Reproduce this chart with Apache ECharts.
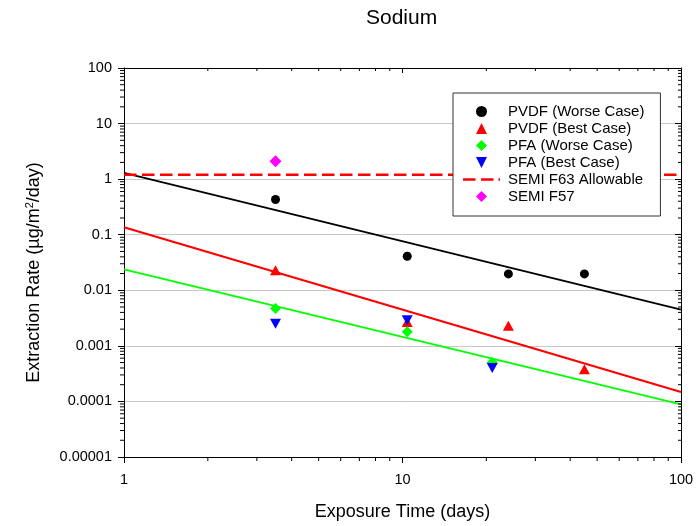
<!DOCTYPE html>
<html>
<head>
<meta charset="utf-8">
<script src="https://cdn.jsdelivr.net/npm/echarts@6/dist/echarts.min.js"></script>
<style>
html,body{margin:0;padding:0;background:#fff;}
#chart{width:699px;height:526px;}
</style>
</head>
<body>
<div id="chart"></div>
<script>
// ---- data ----
const xTickValues = [1, 10, 100];
const xTickLabels = ['1', '10', '100'];
const yTickValues = [0.00001, 0.0001, 0.001, 0.01, 0.1, 1, 10, 100];
const yTickLabels = ['0.00001', '0.0001', '0.001', '0.01', '0.1', '1', '10', '100'];

const pvdfWorseDays = [3.5, 10.4, 24, 45];
const pvdfWorseRate = [0.43, 0.041, 0.0197, 0.0197];
const pvdfBestDays = [3.5, 10.4, 24, 45];
const pvdfBestRate = [0.023, 0.0027, 0.0023, 0.00038];
const pfaWorseDays = [3.5, 10.4, 21];
const pfaWorseRate = [0.0047, 0.0018, 0.0005];
const pfaBestDays = [3.5, 10.4, 21];
const pfaBestRate = [0.0025, 0.0029, 0.0004];
const semiF57Days = [3.5];
const semiF57Rate = [2.1];
const semiF63Days = [1, 100];
const semiF63Rate = [1.2, 1.2];

// fitted trend lines (end points)
const fitDays = [1, 100];
const pvdfWorseFit = [1.30, 0.00449];
const pvdfBestFit = [0.136, 0.000148];
const pfaWorseFit = [0.0239, 0.0000888];

// minor tick mantissas for the log axes
const minorMantissas = [2, 3, 4, 5, 6, 7, 8, 9];

// ---- build ----
const FONT = '"Liberation Sans", Arial, Helvetica, sans-serif';
const zip = (xs, ys) => xs.map((x, i) => [x, ys[i]]);
const labelFor = (vals, labels) => (v) => {
  let best = 0, bd = Infinity;
  vals.forEach((t, i) => { const d = Math.abs(Math.log10(t) - Math.log10(v)); if (d < bd) { bd = d; best = i; } });
  return bd < 0.01 ? labels[best] : '';
};
const xMin = xTickValues[0], xMax = xTickValues[xTickValues.length - 1];
const yMin = yTickValues[0], yMax = yTickValues[yTickValues.length - 1];

const xMinor = [];
xTickValues.slice(0, -1).forEach(d => minorMantissas.forEach(m => xMinor.push(d * m)));
const yMinor = [];
yTickValues.slice(0, -1).forEach(d => minorMantissas.forEach(m => yMinor.push(+(d * m).toPrecision(3))));

const SYM_UP = 'path://M5,0 L10,10 L0,10 Z';
const SYM_DOWN = 'path://M0,0 L10,0 L5,10 Z';
const SYM_DIAMOND = 'path://M5,0 L10,5 L5,10 L0,5 Z';
const ICON_DASH = 'path://M0,0h12.5v2.7h-12.5z M18,0h12.5v2.7h-12.5z M35.5,0h1.5v2.7h-1.5z';

const tickStyle = { stroke: '#000', lineWidth: 1 };

const chart = echarts.init(document.getElementById('chart'), null, { renderer: 'canvas' });
chart.setOption({
  backgroundColor: '#fff',
  animation: false,
  textStyle: { fontFamily: FONT },
  title: {
    text: 'Sodium',
    left: 366, top: 8, padding: 0,
    textStyle: { fontSize: 21, fontWeight: 'normal', color: '#000', fontFamily: FONT }
  },
  grid: { left: 124, right: 18, top: 68, bottom: 69, containLabel: false },
  legend: {
    orient: 'vertical',
    left: 453, top: 93,
    padding: [10, 16, 11, 10],
    itemWidth: 37, itemHeight: 11, itemGap: 0,
    backgroundColor: '#fff',
    borderColor: '#333', borderWidth: 1,
    symbolKeepAspect: true,
    textStyle: { fontSize: 15, color: '#000', lineHeight: 17, fontFamily: FONT, padding: [0, 0, 0, 3] },
    data: [
      'PVDF (Worse Case)', 'PVDF (Best Case)', 'PFA (Worse Case)', 'PFA (Best Case)',
      { name: 'SEMI F63 Allowable', icon: ICON_DASH },
      'SEMI F57'
    ]
  },
  xAxis: [
    {
      type: 'log', logBase: 10, min: xMin, max: xMax, position: 'bottom',
      name: 'Exposure Time (days)', nameLocation: 'middle', nameGap: 46,
      nameTextStyle: { fontSize: 18, color: '#000', fontFamily: FONT },
      axisLine: { show: true, lineStyle: { color: '#000', width: 1 } },
      axisTick: { show: true, inside: false, length: 6, lineStyle: { color: '#000' } },
      minorTick: { show: false },
      splitLine: { show: false },
      axisLabel: { fontSize: 14.5, color: '#000', margin: 15, formatter: labelFor(xTickValues, xTickLabels) }
    },
    {
      type: 'log', logBase: 10, min: xMin, max: xMax, position: 'top',
      axisLine: { show: true, lineStyle: { color: '#000', width: 1 } },
      axisTick: { show: true, inside: true, length: 5, lineStyle: { color: '#000' } },
      splitLine: { show: false },
      axisLabel: { show: false }
    }
  ],
  yAxis: [
    {
      type: 'log', logBase: 10, min: yMin, max: yMax, position: 'left',
      name: 'Extraction Rate (µg/m{sup|2}/day)', nameLocation: 'middle', nameGap: 80,
      nameTextStyle: {
        fontSize: 18, color: '#000', fontFamily: FONT, padding: [0, 20, 0, 0],
        rich: { sup: { fontSize: 11, color: '#000', fontFamily: FONT, verticalAlign: 'bottom', padding: [0, 0, 9, 0] } }
      },
      axisLine: { show: true, lineStyle: { color: '#000', width: 1 } },
      axisTick: { show: true, inside: false, length: 6, lineStyle: { color: '#000' } },
      minorTick: { show: false },
      splitLine: { show: true, lineStyle: { color: '#c8c8c8', width: 1 } },
      axisLabel: { fontSize: 14.5, color: '#000', margin: 12, formatter: labelFor(yTickValues, yTickLabels) }
    },
    {
      type: 'log', logBase: 10, min: yMin, max: yMax, position: 'right',
      axisLine: { show: true, lineStyle: { color: '#000', width: 1 } },
      axisTick: { show: true, inside: true, length: 6, lineStyle: { color: '#000' } },
      splitLine: { show: false },
      axisLabel: { show: false }
    }
  ],
  series: [
    {
      name: 'PVDF worse fit', type: 'line', data: zip(fitDays, pvdfWorseFit), symbol: 'none',
      lineStyle: { color: '#000', width: 1.8 }, z: 2, silent: true
    },
    {
      name: 'PVDF best fit', type: 'line', data: zip(fitDays, pvdfBestFit), symbol: 'none',
      lineStyle: { color: '#ff0000', width: 2.2 }, z: 2, silent: true
    },
    {
      name: 'PFA worse fit', type: 'line', data: zip(fitDays, pfaWorseFit), symbol: 'none',
      lineStyle: { color: '#00ff00', width: 1.8 }, z: 2, silent: true
    },
    {
      name: 'SEMI F63 Allowable', type: 'line', data: zip(semiF63Days, semiF63Rate), symbol: 'none',
      itemStyle: { color: '#ff0000' },
      lineStyle: { color: '#ff0000', width: 2.7, type: [12.5, 5.5] }, z: 2
    },
    {
      name: 'PVDF (Worse Case)', type: 'scatter', data: zip(pvdfWorseDays, pvdfWorseRate),
      symbol: 'circle', symbolSize: 9, itemStyle: { color: '#000', opacity: 1 }, z: 3
    },
    {
      name: 'PVDF (Best Case)', type: 'scatter', data: zip(pvdfBestDays, pvdfBestRate),
      symbol: SYM_UP, symbolSize: [11, 10], itemStyle: { color: '#ff0000', opacity: 1 }, z: 3
    },
    {
      name: 'PFA (Worse Case)', type: 'scatter', data: zip(pfaWorseDays, pfaWorseRate),
      symbol: SYM_DIAMOND, symbolSize: 11, itemStyle: { color: '#00ff00', opacity: 1 }, z: 3
    },
    {
      name: 'PFA (Best Case)', type: 'scatter', data: zip(pfaBestDays, pfaBestRate),
      symbol: SYM_DOWN, symbolSize: [11, 10], itemStyle: { color: '#0000ff', opacity: 1 }, z: 3
    },
    {
      name: 'SEMI F57', type: 'scatter', data: zip(semiF57Days, semiF57Rate),
      symbol: SYM_DIAMOND, symbolSize: 12, itemStyle: { color: '#ff00ff', opacity: 1 }, z: 3
    },
    {
      name: 'x minor ticks', type: 'custom', silent: true, z: 5,
      data: xMinor.map(v => [v, 1]),
      renderItem: function (params, api) {
        const v = api.value(0);
        const pb = api.coord([v, yMin]);
        const pt = api.coord([v, yMax]);
        return { type: 'group', children: [
          { type: 'line', shape: { x1: pb[0], y1: pb[1], x2: pb[0], y2: pb[1] + 4 }, style: tickStyle },
          { type: 'line', shape: { x1: pt[0], y1: pt[1], x2: pt[0], y2: pt[1] + 3 }, style: tickStyle }
        ] };
      }
    },
    {
      name: 'y minor ticks', type: 'custom', silent: true, z: 5,
      data: yMinor.map(v => [1, v]),
      renderItem: function (params, api) {
        const v = api.value(1);
        const pl = api.coord([xMin, v]);
        const pr = api.coord([xMax, v]);
        return { type: 'group', children: [
          { type: 'line', shape: { x1: pl[0], y1: pl[1], x2: pl[0] - 4, y2: pl[1] }, style: tickStyle },
          { type: 'line', shape: { x1: pr[0], y1: pr[1], x2: pr[0] - 3, y2: pr[1] }, style: tickStyle }
        ] };
      }
    }
  ]
});
</script>
</body>
</html>
